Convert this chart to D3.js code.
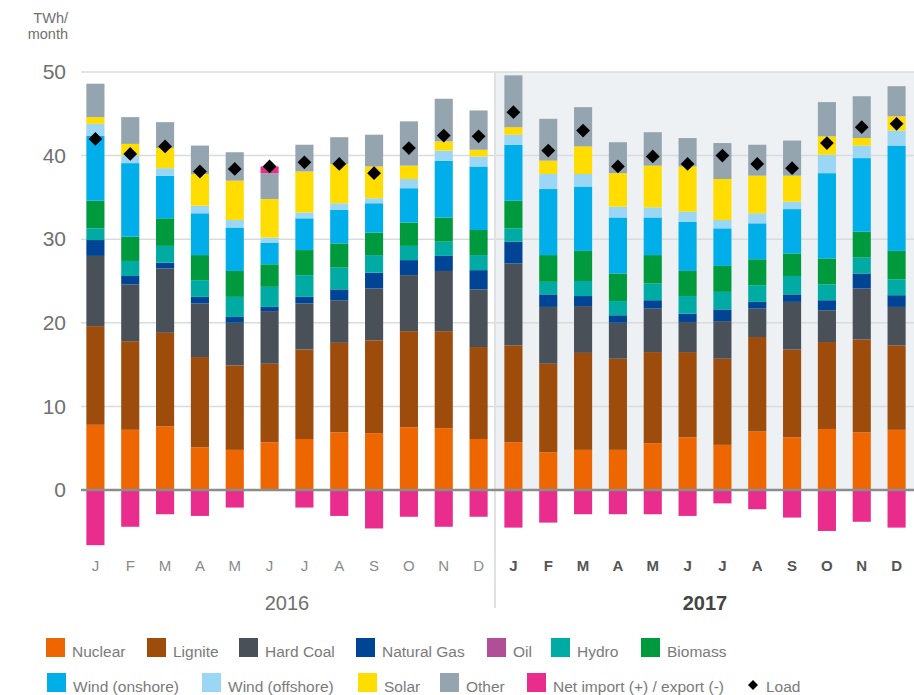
<!DOCTYPE html>
<html>
<head>
<meta charset="utf-8">
<script src="https://cdnjs.cloudflare.com/ajax/libs/d3/7.8.5/d3.min.js"></script>
<style>
  body { margin: 0; background: #fff; }
  svg { display: block; font-family: "Liberation Sans", Arial, sans-serif; }
</style>
</head>
<body>
<div id="chart"></div>
<script>
//months, two years
var months = ["J","F","M","A","M","J","J","A","S","O","N","D",
              "J","F","M","A","M","J","J","A","S","O","N","D"];
var years = ["2016", "2017"];

//generation per source, TWh/month
var nuclear  = [7.8,7.2,7.6,5.1,4.8,5.7,6.1,6.9,6.8,7.5,7.4,6.1, 5.7,4.5,4.8,4.8,5.6,6.3,5.4,7.0,6.3,7.3,6.9,7.2];
var lignite  = [11.8,10.6,11.2,10.8,10.1,9.4,10.7,10.7,11.1,11.5,11.6,11.0, 11.6,10.6,11.6,10.9,10.9,10.2,10.3,11.3,10.5,10.4,11.1,10.1];
var hardCoal = [8.4,6.8,7.7,6.4,5.1,6.3,5.5,5.1,6.2,6.7,7.2,6.9, 9.8,6.8,5.6,4.3,5.2,3.6,4.5,3.4,5.7,3.8,6.1,4.6];
var natGas   = [1.9,1.0,0.7,0.8,0.7,0.5,0.8,1.3,1.9,1.8,1.8,2.3, 2.6,1.5,1.2,0.9,1.0,1.0,1.4,0.8,0.9,1.2,1.8,1.4];
var oil      = [0,0,0,0,0,0,0,0,0,0,0,0, 0,0,0,0,0,0,0,0,0,0,0,0];
var hydro    = [1.4,1.8,2.0,2.0,2.4,2.4,2.6,2.6,2.1,1.7,1.7,1.8, 1.6,1.5,1.8,1.7,2.0,2.1,2.1,2.0,2.2,1.9,1.9,1.9];
var biomass  = [3.3,2.9,3.3,3.0,3.1,2.7,3.0,2.9,2.7,2.8,2.9,3.0, 3.3,3.2,3.6,3.3,3.4,3.0,3.1,3.1,2.7,3.1,3.1,3.4];
var windOn   = [7.8,8.8,5.1,5.0,5.2,2.6,3.8,4.0,3.5,4.1,6.8,7.6, 6.7,7.9,7.7,6.7,4.5,5.9,4.5,4.3,5.3,10.2,8.8,12.6];
var windOff  = [1.4,0.9,0.9,0.9,0.9,0.6,0.7,0.8,0.6,1.1,1.2,1.2, 1.2,1.8,1.5,1.3,1.2,1.2,1.0,1.2,0.9,2.2,1.5,1.8];
var solar    = [0.8,1.4,2.4,3.8,4.7,4.6,4.9,4.7,3.8,1.6,1.1,0.8, 0.9,1.6,3.3,4.0,5.0,5.4,4.9,4.5,3.1,2.2,0.9,1.7];
var other    = [4.0,3.2,3.1,3.4,3.4,3.1,3.2,3.2,3.8,5.3,5.1,4.7, 6.2,5.0,4.7,3.7,4.0,3.4,4.3,3.7,4.2,4.1,5.0,3.6];
var netImport = [-6.6,-4.4,-2.9,-3.1,-2.1,0.8,-2.1,-3.1,-4.6,-3.2,-4.4,-3.2, -4.5,-3.9,-2.9,-2.9,-2.9,-3.1,-1.6,-2.3,-3.3,-4.9,-3.8,-4.5];
var load     = [42.0,40.2,41.1,38.1,38.4,38.7,39.2,39.0,37.9,40.9,42.4,42.3, 45.2,40.6,43.0,38.7,39.9,39.0,40.0,39.0,38.5,41.5,43.4,43.8];

var yTicks = [0, 10, 20, 30, 40, 50];

var series = [
  {key: "nuclear",   name: "Nuclear",              color: "#ee6600", values: nuclear},
  {key: "lignite",   name: "Lignite",              color: "#9e4c0c", values: lignite},
  {key: "hardCoal",  name: "Hard Coal",            color: "#4a5057", values: hardCoal},
  {key: "natGas",    name: "Natural Gas",          color: "#004595", values: natGas},
  {key: "oil",       name: "Oil",                  color: "#b04f98", values: oil},
  {key: "hydro",     name: "Hydro",                color: "#00aba4", values: hydro},
  {key: "biomass",   name: "Biomass",              color: "#009a3e", values: biomass},
  {key: "windOn",    name: "Wind (onshore)",       color: "#00aeea", values: windOn},
  {key: "windOff",   name: "Wind (offshore)",      color: "#9bd7f5", values: windOff},
  {key: "solar",     name: "Solar",                color: "#ffdd00", values: solar},
  {key: "other",     name: "Other",                color: "#95a5b0", values: other},
  {key: "netImport", name: "Net import (+) / export (-)", color: "#e92d8c", values: netImport}
];

//table for d3.stack
var table = months.map(function (m, i) {
  var row = {i: i};
  series.forEach(function (s) { row[s.key] = s.values[i]; });
  return row;
});

var W = 914, H = 695;
var svg = d3.select("#chart").append("svg")
  .attr("width", W)
  .attr("height", H);

var x = d3.scaleBand()
  .domain(d3.range(months.length))
  .range([78, 914])
  .paddingInner(0.48)
  .paddingOuter(0.24);

var y = d3.scaleLinear()
  .domain([0, 50])
  .range([490, 72]);

var split = x.step() * 12 + 78;

//2017 shading
svg.append("rect")
  .attr("x", split)
  .attr("y", y(50))
  .attr("width", 914 - split)
  .attr("height", y(0) - y(50))
  .attr("fill", "#edf1f4");

//grid
svg.append("g")
  .selectAll("line")
  .data(yTicks.filter(function (d) { return d > 0; }))
  .join("line")
  .attr("x1", 81).attr("x2", 914)
  .attr("y1", function (d) { return y(d); })
  .attr("y2", function (d) { return y(d); })
  .attr("stroke", "#d9dbdd")
  .attr("stroke-width", 1.5);

//separator between years
svg.append("line")
  .attr("x1", split - 1).attr("x2", split - 1)
  .attr("y1", y(50)).attr("y2", 608)
  .attr("stroke", "#e0e1e2")
  .attr("stroke-width", 2);

//y axis
var yAxis = svg.append("g")
  .attr("transform", "translate(66,0)")
  .call(d3.axisLeft(y).tickValues(yTicks).tickSize(0).tickPadding(0));
yAxis.select(".domain").remove();
yAxis.selectAll("text")
  .attr("font-size", 21)
  .attr("fill", "#707070")
  .attr("font-family", "Liberation Sans, Arial, sans-serif");

svg.append("text")
  .attr("x", 68).attr("y", 23)
  .attr("text-anchor", "end")
  .attr("font-size", 14.5)
  .attr("fill", "#707070")
  .text("TWh/");
svg.append("text")
  .attr("x", 68).attr("y", 39)
  .attr("text-anchor", "end")
  .attr("font-size", 14.5)
  .attr("fill", "#707070")
  .text("month");

//stacked bars
var stack = d3.stack()
  .keys(series.map(function (s) { return s.key; }))
  .offset(d3.stackOffsetDiverging);
var stacked = stack(table);

svg.append("g")
  .selectAll("g")
  .data(stacked)
  .join("g")
  .attr("fill", function (d, k) { return series[k].color; })
  .selectAll("rect")
  .data(function (d) { return d; })
  .join("rect")
  .attr("x", function (d) { return x(d.data.i); })
  .attr("width", x.bandwidth())
  .attr("y", function (d) { return y(Math.max(d[0], d[1])); })
  .attr("height", function (d) { return Math.abs(y(d[0]) - y(d[1])); });

//zero line
svg.append("line")
  .attr("x1", 81).attr("x2", 914)
  .attr("y1", y(0)).attr("y2", y(0))
  .attr("stroke", "#8c8c8c")
  .attr("stroke-width", 2.5);

//load diamonds
var diamond = d3.symbol().type(d3.symbolSquare).size(95);
svg.append("g")
  .selectAll("path")
  .data(load)
  .join("path")
  .attr("d", diamond)
  .attr("transform", function (d, i) {
    return "translate(" + (x(i) + x.bandwidth() / 2) + "," + y(d) + ") rotate(45)";
  })
  .attr("fill", "#000");

//month labels
var xAxis = svg.append("g")
  .attr("transform", "translate(0,560)")
  .call(d3.axisBottom(x).tickSize(0).tickPadding(0)
    .tickFormat(function (i) { return months[i]; }));
xAxis.select(".domain").remove();
xAxis.selectAll("text")
  .attr("font-size", 15)
  .attr("font-family", "Liberation Sans, Arial, sans-serif")
  .attr("fill", function (i) { return i < 12 ? "#8a8a8a" : "#555"; })
  .attr("font-weight", function (i) { return i < 12 ? "normal" : "bold"; });

//year labels
svg.selectAll(".year")
  .data(years)
  .join("text")
  .attr("class", "year")
  .attr("x", function (d, k) { return (x(k * 12) + x(k * 12 + 11) + x.bandwidth()) / 2; })
  .attr("y", 610)
  .attr("text-anchor", "middle")
  .attr("font-size", 20)
  .attr("font-weight", function (d, k) { return k === 0 ? "normal" : "bold"; })
  .attr("fill", function (d, k) { return k === 0 ? "#6f6f6f" : "#444"; })
  .text(function (d) { return d; });

//legend
var legendPos = [
  [46, 638], [147, 638], [239, 638], [356, 638], [487, 638], [551, 638], [641, 638],
  [47, 673], [202, 673], [358, 673], [440, 673], [527, 673]
];
var legend = svg.append("g")
  .selectAll("g")
  .data(series)
  .join("g")
  .attr("transform", function (d, k) { return "translate(" + legendPos[k][0] + "," + legendPos[k][1] + ")"; });
legend.append("rect")
  .attr("width", 19).attr("height", 19)
  .attr("fill", function (d) { return d.color; });
legend.append("text")
  .attr("x", 26).attr("y", 18.5)
  .attr("font-size", 15.5)
  .attr("fill", "#7a7a7a")
  .text(function (d) { return d.name; });

var loadLegend = svg.append("g").attr("transform", "translate(753,685)");
loadLegend.append("path")
  .attr("d", d3.symbol().type(d3.symbolSquare).size(50))
  .attr("transform", "rotate(45)")
  .attr("fill", "#000");
loadLegend.append("text")
  .attr("x", 13).attr("y", 6.5)
  .attr("font-size", 15.5)
  .attr("fill", "#7a7a7a")
  .text("Load");
</script>
</body>
</html>
